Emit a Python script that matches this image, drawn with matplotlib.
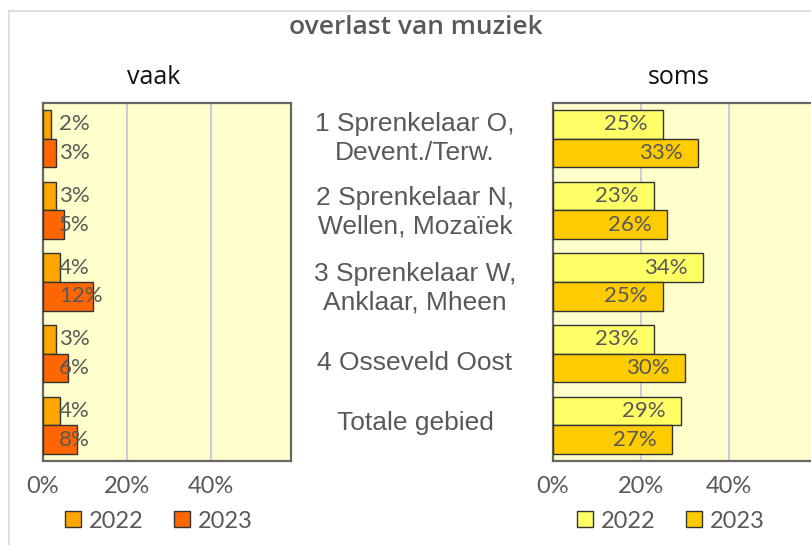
import matplotlib.pyplot as plt
import numpy as np
from matplotlib.lines import Line2D
from matplotlib.transforms import offset_copy

categories = ["1 Sprenkelaar O,\nDevent./Terw.",
              "2 Sprenkelaar N,\nWellen, Mozaïek",
              "3 Sprenkelaar W,\nAnklaar, Mheen",
              "4 Osseveld Oost",
              "Totale gebied"]
vaak_2022 = [2, 3, 4, 3, 4]
vaak_2023 = [3, 5, 12, 6, 8]
soms_2022 = [25, 23, 34, 23, 29]
soms_2023 = [33, 26, 25, 30, 27]
years = ["2022", "2023"]
ticks = [0, 20, 40]

txt = "#595959"
bg = "#FFFFCC"

fig = plt.figure(figsize=(8.11, 5.45), dpi=100)
W, H = 811, 545

def px_axes(x0, y0, x1, y1):
    return fig.add_axes([x0 / W, 1 - y1 / H, (x1 - x0) / W, (y1 - y0) / H])

ax_l = px_axes(43, 103, 291, 461)
ax_r = px_axes(553, 103, 817, 461)

y = np.arange(len(categories))
bh = 0.4

def draw(ax, v1, v2, c1, c2, span, inside):
    ax.set_facecolor(bg)
    b1 = ax.barh(y - bh / 2, v1, height=bh, color=c1, edgecolor="#333333", linewidth=1, zorder=3)
    b2 = ax.barh(y + bh / 2, v2, height=bh, color=c2, edgecolor="#333333", linewidth=1, zorder=3)
    ax.set_xlim(0, span)
    ax.set_ylim(len(categories) - 0.5, -0.5)
    ax.set_xticks(ticks)
    ax.set_xticklabels([f"{t}%" for t in ticks], fontsize=17, color=txt, family="Lato")
    ax.set_yticks([])
    ax.tick_params(axis="x", length=0, pad=11)
    ax.grid(axis="x", color="#C9CCDD", linewidth=1.5, zorder=1)
    for s in ax.spines.values():
        s.set_color("#666666")
        s.set_linewidth(1.6)
    for bars, vals in ((b1, v1), (b2, v2)):
        for b, v in zip(bars, vals):
            yc = b.get_y() + b.get_height() / 2
            if inside:
                ax.annotate(f"{v}%", (v, yc), xytext=(-11, 0), textcoords="offset points",
                            ha="right", va="center", fontsize=16, color=txt, family="Lato", zorder=4)
            else:
                ax.annotate(f"{v}%", (0, yc), xytext=(11.5, 0), textcoords="offset points",
                            ha="left", va="center", fontsize=16, color=txt, family="Lato", zorder=4)

draw(ax_l, vaak_2022, vaak_2023, "#FFA500", "#FF6600", 59, False)
draw(ax_r, soms_2022, soms_2023, "#FFFF66", "#FFCC00", 60, True)

fig.text(154 / W, 1 - 77 / H, "vaak", fontsize=18, color="#111111", family="Open Sans",
         ha="center", va="center")
fig.text(679 / W, 1 - 77 / H, "soms", fontsize=18, color="#111111", family="Open Sans",
         ha="center", va="center")

# category labels in the middle (small vertical nudges in points, as in the original)
nudge = [0, -1.5, -4.5, -7, 1.5]
for i, c in enumerate(categories):
    tr = offset_copy(ax_l.transData, fig=fig, x=0, y=nudge[i], units="points")
    yc = tr.transform((0, i))[1]
    fig.text(415 / W, yc / H, c, ha="center", va="center", fontsize=19,
             color=txt, family="Liberation Sans", linespacing=1.25)

fig.text(416 / W, 1 - 28 / H, "overlast van muziek", ha="center", va="center",
         fontsize=19, fontweight="semibold", color="#595959", family="Open Sans")

# legends
def legend(c1, c2, x):
    handles = [Line2D([], [], marker="s", linestyle="", markersize=11, markerfacecolor=c,
                      markeredgecolor="#333333") for c in (c1, c2)]
    leg = fig.legend(handles, years, loc="center", bbox_to_anchor=(x / W, 1 - 521 / H),
                     ncol=2, frameon=False, handletextpad=0.2, columnspacing=1.1,
                     handlelength=1.0, prop={"family": "Lato", "size": 17})
    for t in leg.get_texts():
        t.set_color(txt)

legend("#FFA500", "#FF6600", 157)
legend("#FFFF66", "#FFCC00", 669)

# thin outer frame of the original chart area
fig.add_artist(Line2D([9 / W, 9 / W], [0, 1 - 11 / H], color="#D9D9D9", linewidth=1.2))
fig.add_artist(Line2D([9 / W, 1], [1 - 11 / H, 1 - 11 / H], color="#D9D9D9", linewidth=1.2))

fig.savefig("out.png", dpi=100)
